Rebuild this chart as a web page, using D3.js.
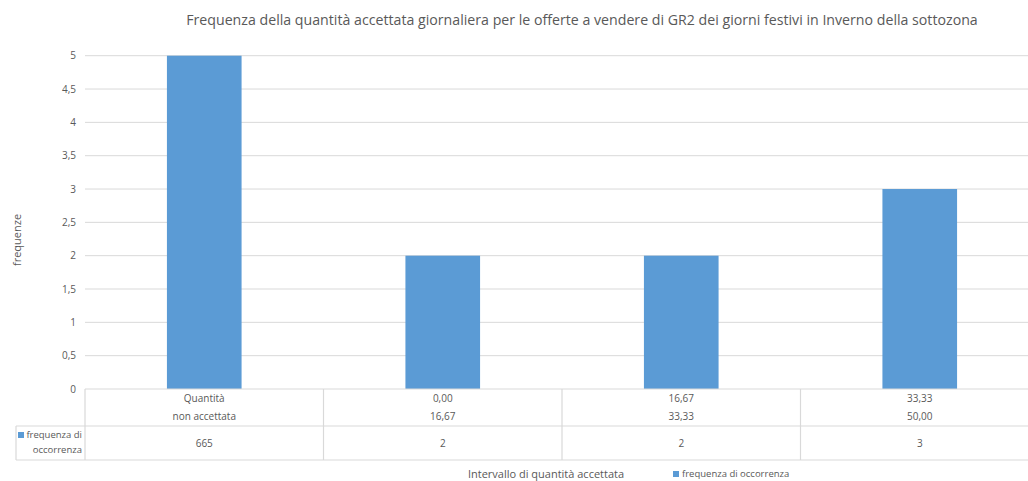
<!DOCTYPE html>
<html><head><meta charset="utf-8">
<script src="https://cdn.jsdelivr.net/npm/d3@7"></script>
<style>body{margin:0;background:#fff}svg{display:block}text{font-family:"Open Sans",sans-serif;fill:#595959}</style>
</head><body>
<script>
const titleText = "Frequenza della quantità accettata giornaliera per le offerte a vendere di GR2 dei giorni festivi in Inverno della sottozona";
const categoriesLine1 = ["Quantità", "0,00", "16,67", "33,33"];
const categoriesLine2 = ["non accettata", "16,67", "33,33", "50,00"];
const seriesName = "frequenza di occorrenza";
const seriesLabelLines = ["frequenza di", "occorrenza"];
const values = [665, 2, 2, 3];
const yTicks = [0, 0.5, 1, 1.5, 2, 2.5, 3, 3.5, 4, 4.5, 5];
const yAxisTitle = "frequenze";
const xAxisTitle = "Intervallo di quantità accettata";

const W = 1028, H = 481;
const svg = d3.select("body").append("svg").attr("width", W).attr("height", H);
const color = "#5b9bd5", grid = "#d9d9d9";
const idx = d3.range(values.length);
const x = d3.scaleBand().domain(idx).range([85, 1039]).paddingInner(0.687).paddingOuter(0.3435);
const band = d3.scaleBand().domain(idx).range([85, 1039]);
const y = d3.scaleLinear().domain([0, 5]).range([389, 55.7]).clamp(true);
const fmt = d => String(d).replace(".", ",");
const fs = 10;

// gridlines
svg.append("g").selectAll("line").data(yTicks.filter(t => t > 0)).join("line")
  .attr("x1", 85).attr("x2", 1039).attr("y1", d => y(d)).attr("y2", d => y(d))
  .attr("stroke", grid).attr("stroke-width", 1);

// y labels
svg.append("g").selectAll("text").data(yTicks).join("text")
  .attr("x", 76).attr("y", d => y(d)).attr("dy", "0.35em").attr("text-anchor", "end")
  .attr("font-size", fs).text(fmt);

// bars
svg.append("g").selectAll("rect").data(values).join("rect")
  .attr("x", (d, i) => x(i)).attr("width", x.bandwidth())
  .attr("y", d => y(d)).attr("height", d => y(0) - y(d))
  .attr("fill", color);

// table lines
const tbl = svg.append("g").attr("stroke", grid).attr("stroke-width", 1.2);
tbl.append("line").attr("x1", 85).attr("x2", 1039).attr("y1", 389).attr("y2", 389);
tbl.append("line").attr("x1", 16).attr("x2", 1039).attr("y1", 426).attr("y2", 426);
tbl.append("line").attr("x1", 16).attr("x2", 1039).attr("y1", 460).attr("y2", 460);
tbl.append("line").attr("x1", 16).attr("x2", 16).attr("y1", 426).attr("y2", 460);
tbl.selectAll("line.v").data(d3.range(values.length + 1)).join("line").attr("class", "v")
  .attr("x1", i => i < values.length ? band(i) : band.range()[1])
  .attr("x2", i => i < values.length ? band(i) : band.range()[1])
  .attr("y1", 389).attr("y2", 460);

// table category labels
const cx = i => band(i) + band.bandwidth() / 2;
svg.append("g").selectAll("text").data(categoriesLine1).join("text")
  .attr("x", (d, i) => cx(i)).attr("y", 398).attr("dy", "0.35em").attr("text-anchor", "middle")
  .attr("font-size", fs).text(d => d);
svg.append("g").selectAll("text").data(categoriesLine2).join("text")
  .attr("x", (d, i) => cx(i)).attr("y", 416).attr("dy", "0.35em").attr("text-anchor", "middle")
  .attr("font-size", fs).text(d => d);
svg.append("g").selectAll("text").data(values).join("text")
  .attr("x", (d, i) => cx(i)).attr("y", 443).attr("dy", "0.35em").attr("text-anchor", "middle")
  .attr("font-size", fs).text(d => d);

// series label cell
svg.append("rect").attr("x", 18).attr("y", 432).attr("width", 6).attr("height", 6).attr("fill", color);
svg.append("g").selectAll("text").data(seriesLabelLines).join("text")
  .attr("x", 82).attr("y", (d, i) => 435 + i * 15).attr("dy", "0.35em").attr("text-anchor", "end")
  .attr("font-size", 9.5).text(d => d);

// title (size fitted to the reference width)
const title = svg.append("text").attr("x", 582).attr("y", 20).attr("dy", "0.35em").attr("text-anchor", "middle")
  .attr("font-size", 16).text(titleText);
const tw = title.node().getComputedTextLength();
title.attr("font-size", Math.min(16, 16 * 792 / tw));

// axis titles
svg.append("text").attr("transform", "translate(17,240) rotate(-90)").attr("dy", "0.35em")
  .attr("text-anchor", "middle").attr("font-size", 11).text(yAxisTitle);
svg.append("text").attr("x", 546).attr("y", 474).attr("dy", "0.35em").attr("text-anchor", "middle")
  .attr("font-size", 11).text(xAxisTitle);

// legend
svg.append("rect").attr("x", 673).attr("y", 471).attr("width", 6).attr("height", 6).attr("fill", color);
svg.append("text").attr("x", 682).attr("y", 474).attr("dy", "0.35em").attr("font-size", 9.5).text(seriesName);
</script>
</body></html>
